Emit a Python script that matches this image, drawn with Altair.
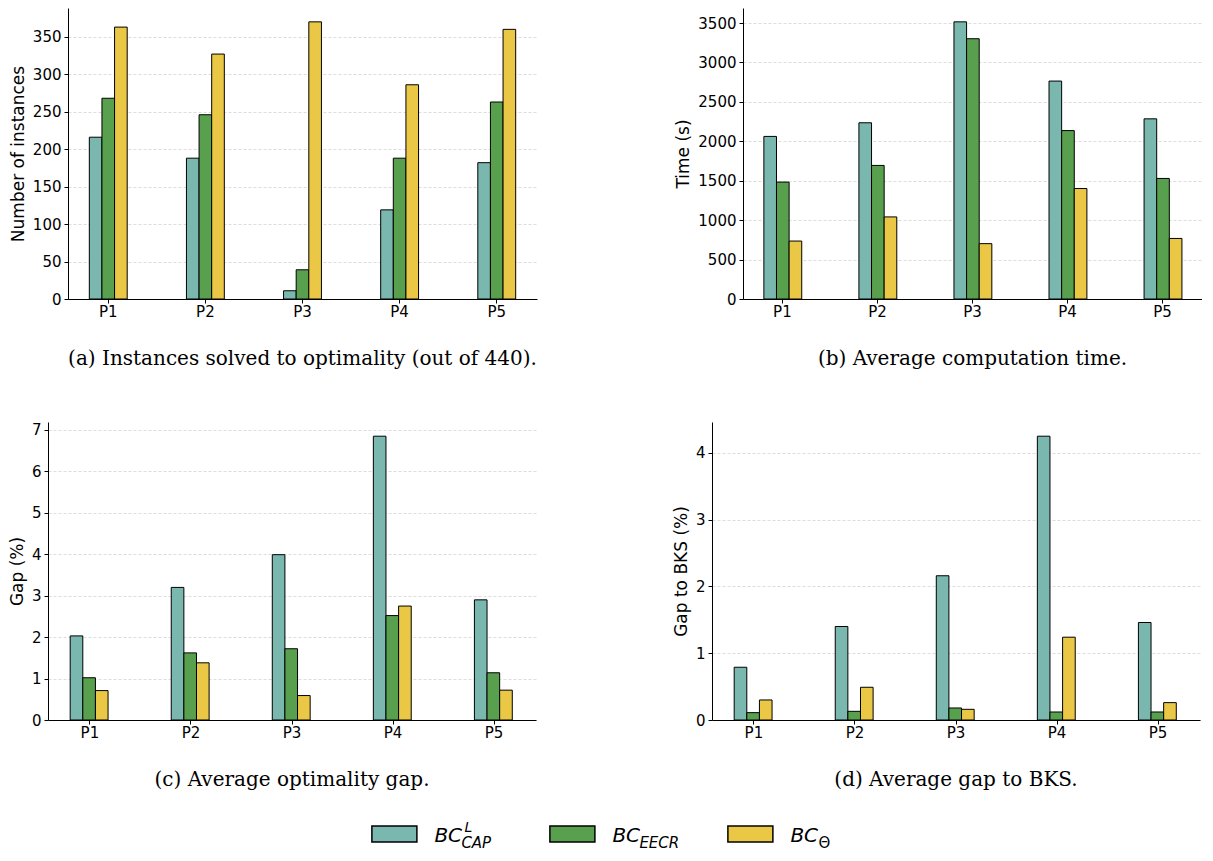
import altair as alt
import pandas as pd

problems = ["P1", "P2", "P3", "P4", "P5"]
methods = ["cap", "eecr", "theta"]
colors = ["#7AB7AF", "#58A04E", "#EAC846"]

# (a) instances solved to optimality
solved_cap = [216, 188, 11, 119, 182]
solved_eecr = [268, 246, 39, 188, 263]
solved_theta = [363, 327, 370, 286, 360]
# (b) average computation time
time_cap = [2062, 2235, 3515, 2764, 2285]
time_eecr = [1483, 1694, 3301, 2136, 1529]
time_theta = [735, 1041, 702, 1401, 768]
# (c) average optimality gap
gap_cap = [2.03, 3.20, 3.99, 6.85, 2.90]
gap_eecr = [1.02, 1.62, 1.72, 2.52, 1.14]
gap_theta = [0.71, 1.38, 0.59, 2.75, 0.72]
# (d) average gap to BKS
bks_cap = [0.79, 1.40, 2.16, 4.25, 1.46]
bks_eecr = [0.11, 0.13, 0.18, 0.12, 0.12]
bks_theta = [0.30, 0.49, 0.16, 1.24, 0.26]

ticks_a = [0, 50, 100, 150, 200, 250, 300, 350]
ticks_b = [0, 500, 1000, 1500, 2000, 2500, 3000, 3500]
ticks_c = [0, 1, 2, 3, 4, 5, 6, 7]
ticks_d = [0, 1, 2, 3, 4]

legend_main = ["BC", "BC", "BC"]
legend_sup = ["L", "", ""]
legend_sub = ["CAP", "EECR", "Θ"]


def panel(series, ytitle, ticks, caption, width, height):
    df = pd.DataFrame({
        "problem": problems * 3,
        "method": [m for m in methods for _ in problems],
        "value": series[0] + series[1] + series[2],
    })
    ymax = float(df["value"].max()) * 1.05
    return alt.Chart(df).mark_bar(stroke="black", strokeWidth=1).encode(
        x=alt.X("problem:N",
                scale=alt.Scale(domain=problems, paddingInner=0.61, paddingOuter=0.2195),
                axis=alt.Axis(title=None, labelAngle=0, grid=False)),
        xOffset=alt.XOffset("method:N",
                            scale=alt.Scale(domain=methods, paddingInner=0, paddingOuter=0)),
        y=alt.Y("value:Q", scale=alt.Scale(domain=[0, ymax], nice=False, zero=True),
                axis=alt.Axis(values=ticks, title=ytitle, grid=True, format="d")),
        color=alt.Color("method:N", scale=alt.Scale(domain=methods, range=colors), legend=None),
    ).properties(width=width, height=height, title=caption)


pa = panel([solved_cap, solved_eecr, solved_theta], "Number of instances", ticks_a,
           "(a) Instances solved to optimality (out of 440).", 469, 291)
pb = panel([time_cap, time_eecr, time_theta], "Time (s)", ticks_b,
           "(b) Average computation time.", 459, 291)
pc = panel([gap_cap, gap_eecr, gap_theta], "Gap (%)", ticks_c,
           "(c) Average optimality gap.", 488, 298)
pd_ = panel([bks_cap, bks_eecr, bks_theta], "Gap to BKS (%)", ticks_d,
            "(d) Average gap to BKS.", 488, 298)

# invisible spacer shifting the first row so that its plot areas sit where the reference has them
spacer = alt.Chart(pd.DataFrame({"v": [0]})).mark_point(opacity=0, size=0).encode(
    x=alt.value(0), y=alt.value(0)).properties(width=19.5, height=1)

row1 = alt.hconcat(spacer, alt.hconcat(pa, pb, spacing=206, bounds="flush"),
                   spacing=0, bounds="flush")
row2 = alt.hconcat(pc, pd_, spacing=176, bounds="flush")

leg_df = pd.DataFrame({"method": methods, "main": legend_main,
                       "sup": legend_sup, "sub": legend_sub})
lx = alt.X("method:N", scale=alt.Scale(type="band", domain=methods, paddingInner=0,
                                        paddingOuter=1, align=0.723), axis=None)
rect_path = "M -1 -0.3556 L 1 -0.3556 L 1 0.3556 L -1 0.3556 Z"
base = alt.Chart(leg_df)
swatch = base.mark_point(shape=rect_path, size=2025, filled=True, opacity=1,
                         stroke="black", strokeWidth=1.5).encode(
    x=lx, y=alt.value(8),
    fill=alt.Fill("method:N", scale=alt.Scale(domain=methods, range=colors), legend=None))
main_t = base.mark_text(align="left", baseline="alphabetic", dx=40, font="DejaVu Sans",
                        fontStyle="italic", fontSize=20, color="black").encode(
    x=lx, y=alt.value(16), text="main:N")
sup_t = base.mark_text(align="left", baseline="alphabetic", dx=70, font="DejaVu Sans",
                       fontStyle="italic", fontSize=14, color="black").encode(
    x=lx, y=alt.value(6), text="sup:N")
sub_it = base.mark_text(align="left", baseline="alphabetic", dx=67, font="DejaVu Sans",
                        fontStyle="italic", fontSize=15, color="black").encode(
    x=lx, y=alt.value(22), text="sub:N").transform_filter(alt.datum.method != "theta")
sub_up = base.mark_text(align="left", baseline="alphabetic", dx=68, font="DejaVu Sans",
                        fontSize=15, color="black").encode(
    x=lx, y=alt.value(22), text="sub:N").transform_filter(alt.datum.method == "theta")
legend = alt.layer(swatch, main_t, sup_t, sub_it, sub_up).properties(width=890, height=24)

top = alt.vconcat(row1, row2, spacing=53)
chart = alt.vconcat(top, legend, spacing=31).properties(
    padding={"left": 0, "top": 0, "right": 0, "bottom": 0}
).configure_view(stroke=None).configure_axis(
    domainColor="black", domainWidth=1, tickColor="black", tickWidth=1, tickSize=4,
    labelColor="black", labelFont="DejaVu Sans", labelFontSize=15,
    titleFont="DejaVu Sans", titleFontSize=17, titleFontWeight="normal", titleColor="black",
    gridColor="#d4d4d4", gridDash=[3, 2], gridWidth=0.8,
).configure_axisX(labelPadding=1).configure_axisY(labelPadding=3, titlePadding=5).configure_title(
    font="DejaVu Serif", fontSize=20, fontWeight="normal", color="black",
    orient="bottom", anchor="middle", offset=30,
)

chart.save("out.html", embed_options={"renderer": "svg", "actions": False})
